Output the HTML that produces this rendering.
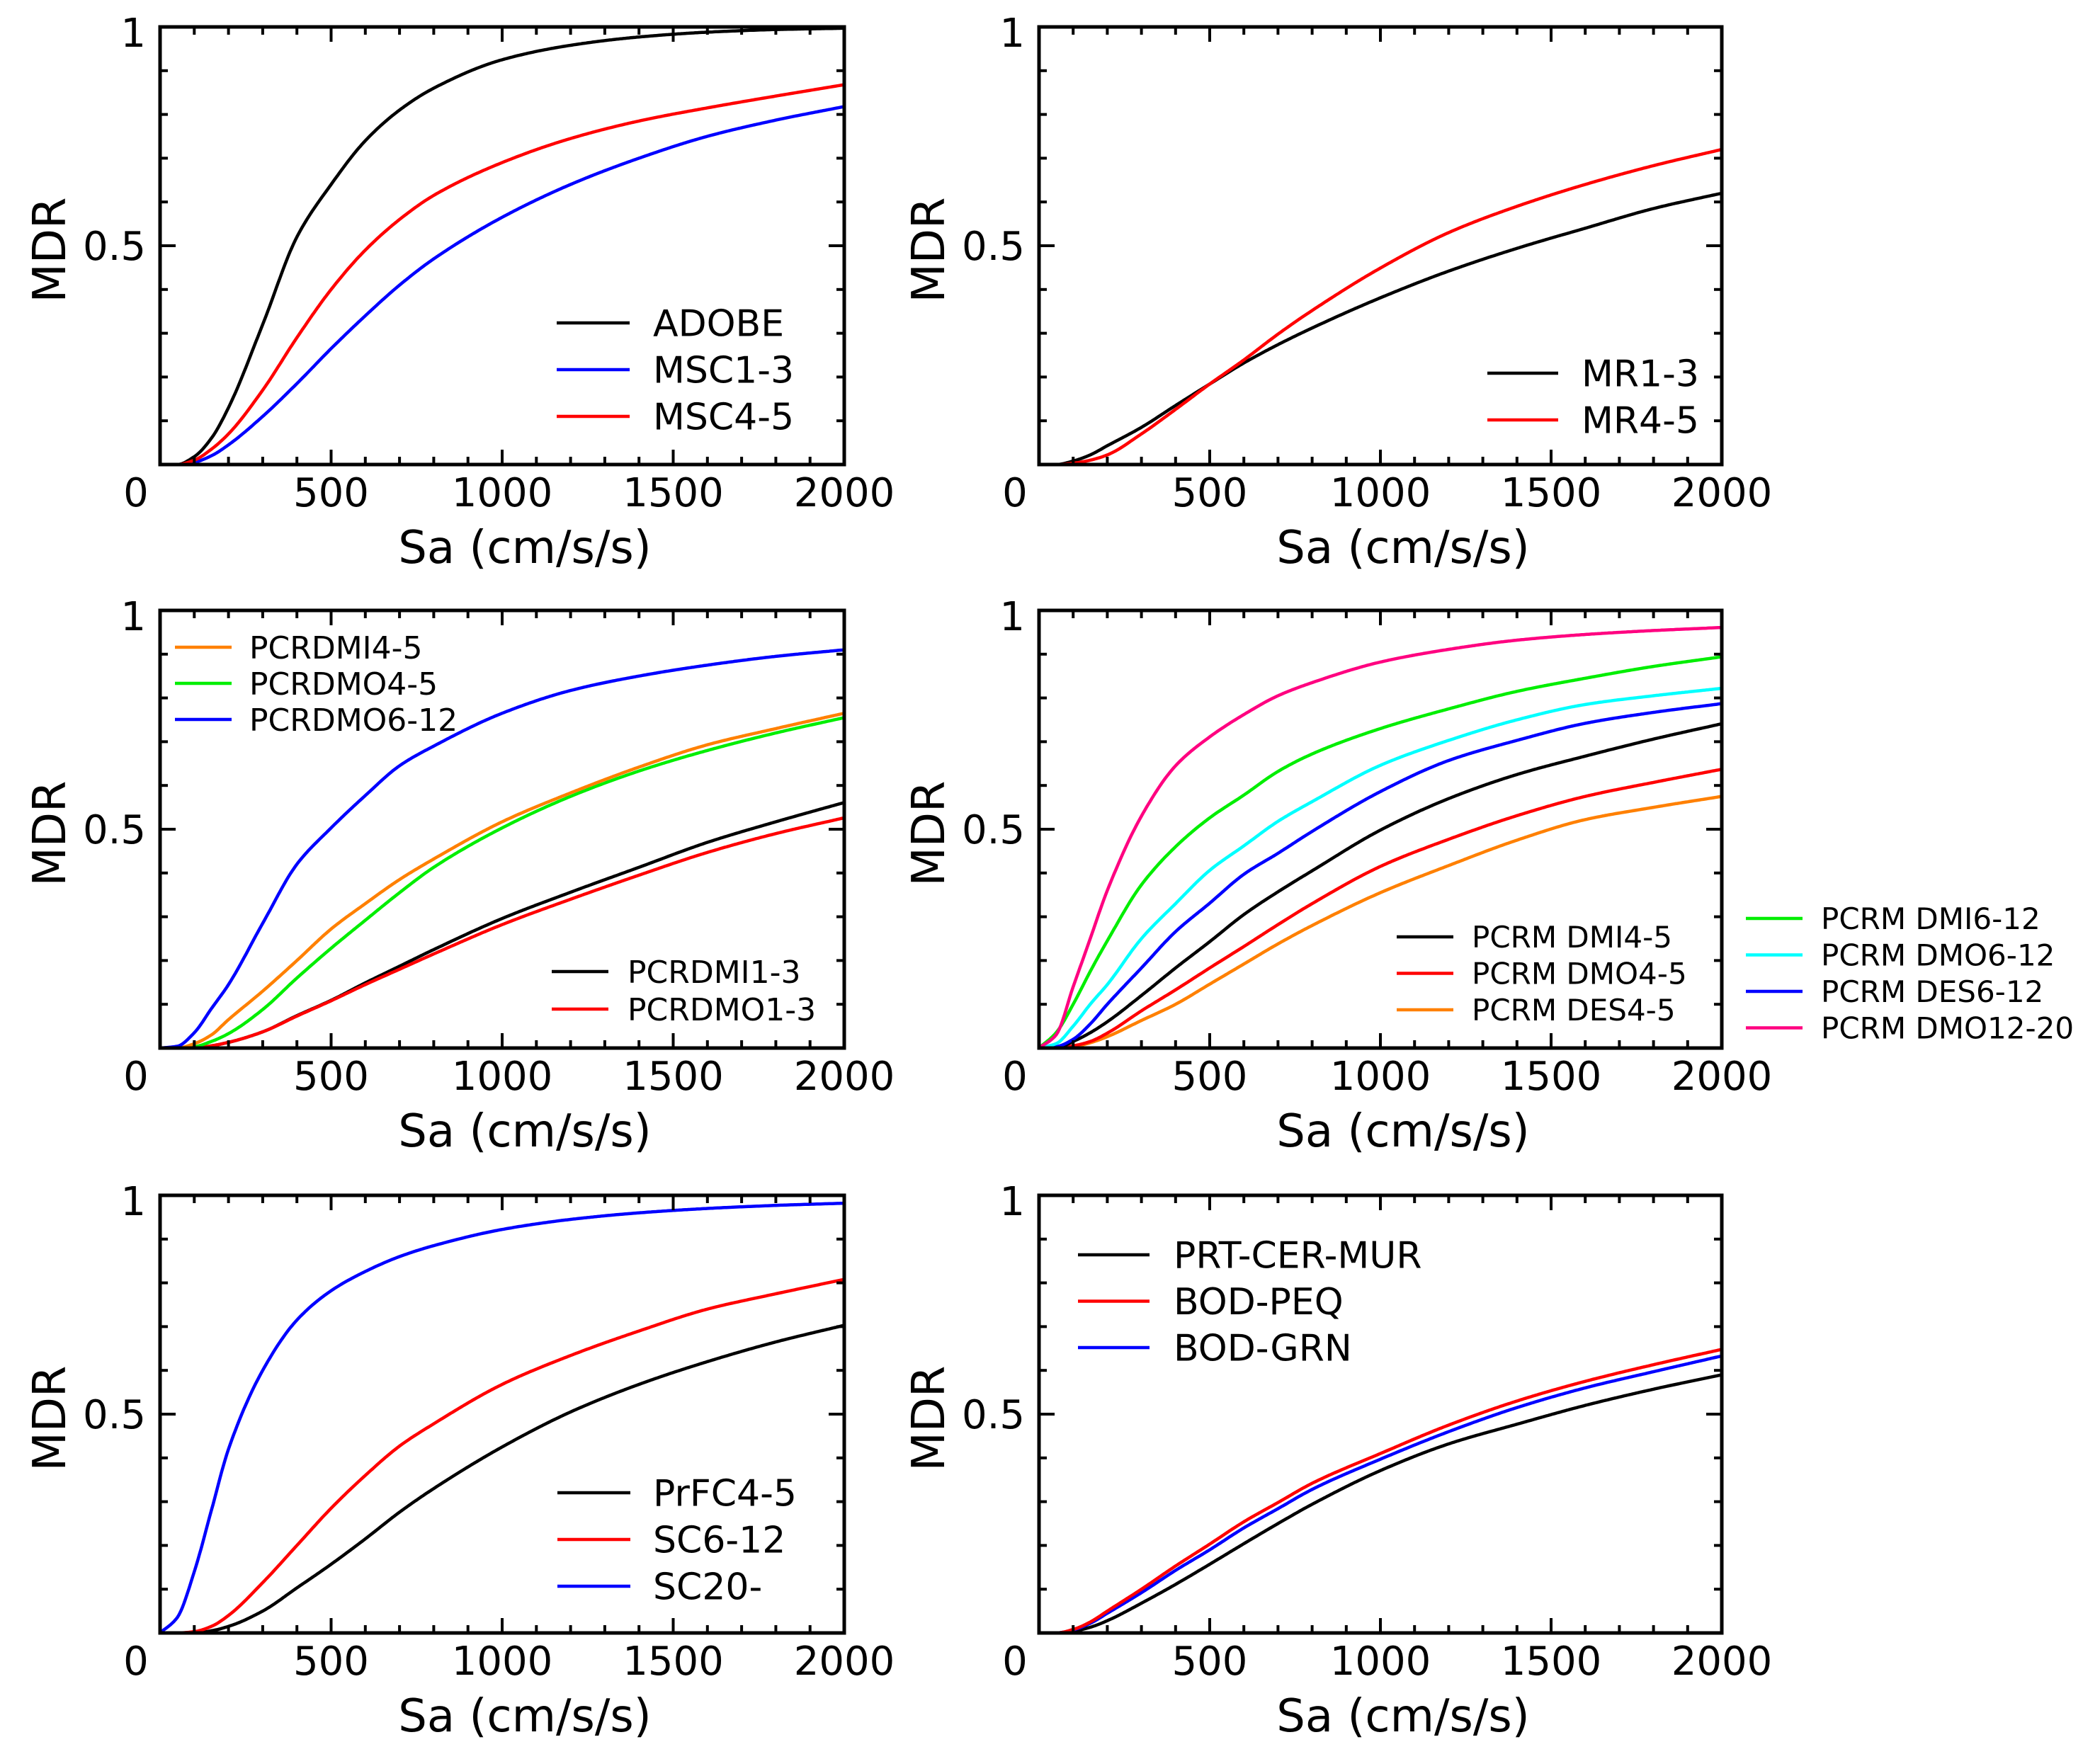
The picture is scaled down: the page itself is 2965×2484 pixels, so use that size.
<!DOCTYPE html>
<html><head><meta charset="utf-8"><style>
html,body{margin:0;padding:0;background:#fff;}
svg{display:block;font-family:"DejaVu Sans","Liberation Sans",sans-serif;}
</style></head><body>
<svg id="fig" width="2965" height="2484" viewBox="0 0 2965 2484" xmlns="http://www.w3.org/2000/svg"></svg>
<script>
const sa = [0,50,100,150,200,300,400,500,600,700,800,1000,1200,1400,1600,1800,2000];
const xTicks = [500,1000,1500,2000];
const yTickLabels = ["0.5","1"];
// Panel 1
const adobe  = [0,0,0.018,0.06,0.13,0.32,0.52,0.64,0.74,0.81,0.86,0.925,0.958,0.977,0.988,0.994,0.997];
const msc13  = [0,0,0.005,0.02,0.045,0.11,0.185,0.265,0.34,0.41,0.47,0.565,0.64,0.7,0.75,0.787,0.818];
const msc45  = [0,0,0.01,0.035,0.07,0.17,0.29,0.4,0.49,0.56,0.615,0.69,0.745,0.785,0.815,0.842,0.868];
// Panel 2
const mr13 = [0,0,0.008,0.022,0.043,0.085,0.135,0.184,0.232,0.274,0.312,0.381,0.442,0.494,0.54,0.585,0.62];
const mr45 = [0,0,0.003,0.01,0.022,0.07,0.126,0.184,0.239,0.298,0.352,0.449,0.53,0.59,0.64,0.683,0.72];
// Panel 3
const pcrdmo612 = [0,0.004,0.035,0.09,0.145,0.285,0.42,0.503,0.577,0.645,0.69,0.765,0.817,0.85,0.875,0.895,0.91];
const pcrdmi45  = [0,0,0.01,0.03,0.065,0.13,0.2,0.272,0.33,0.385,0.432,0.517,0.583,0.642,0.693,0.73,0.765];
const pcrdmo45  = [0,0,0.003,0.015,0.033,0.088,0.16,0.228,0.292,0.355,0.413,0.503,0.575,0.633,0.68,0.72,0.755];
const pcrdmi13  = [0,0,0,0.005,0.013,0.037,0.074,0.109,0.149,0.187,0.225,0.296,0.356,0.413,0.47,0.517,0.561];
const pcrdmo13  = [0,0,0,0.005,0.013,0.037,0.073,0.108,0.145,0.18,0.215,0.282,0.34,0.395,0.447,0.49,0.526];
// Panel 4
const dmo1220 = [0,0.03,0.14,0.25,0.36,0.53,0.645,0.711,0.762,0.805,0.835,0.882,0.911,0.932,0.945,0.954,0.961];
const dmi612  = [0,0.035,0.1,0.175,0.245,0.373,0.46,0.526,0.578,0.632,0.672,0.73,0.775,0.815,0.845,0.872,0.894];
const dmo612  = [0,0.01,0.05,0.1,0.145,0.25,0.33,0.406,0.462,0.518,0.563,0.646,0.703,0.75,0.785,0.805,0.822];
const des612  = [0,0.003,0.02,0.055,0.1,0.183,0.266,0.331,0.397,0.445,0.495,0.586,0.657,0.703,0.742,0.767,0.787];
const dmi45   = [0,0,0.015,0.035,0.06,0.12,0.183,0.243,0.305,0.357,0.405,0.498,0.57,0.625,0.667,0.706,0.741];
const dmo45   = [0,0,0.005,0.015,0.034,0.085,0.133,0.183,0.232,0.282,0.33,0.415,0.477,0.531,0.575,0.607,0.637];
const des45   = [0,0,0.003,0.012,0.026,0.063,0.1,0.146,0.192,0.238,0.28,0.355,0.417,0.475,0.522,0.55,0.575];
// Panel 5
const sc20   = [0,0.035,0.14,0.28,0.42,0.6,0.715,0.782,0.826,0.86,0.885,0.922,0.945,0.96,0.97,0.977,0.982];
const sc612  = [0,0,0.003,0.015,0.04,0.115,0.2,0.285,0.36,0.427,0.478,0.568,0.634,0.69,0.74,0.775,0.808];
const prfc45 = [0,0,0,0.005,0.015,0.05,0.103,0.157,0.215,0.276,0.33,0.425,0.505,0.568,0.62,0.665,0.703];
// Panel 6
const prt    = [0,0,0.004,0.013,0.028,0.068,0.111,0.157,0.204,0.25,0.294,0.371,0.432,0.477,0.52,0.557,0.59];
const bodpeq = [0,0,0.008,0.025,0.05,0.1,0.153,0.203,0.254,0.298,0.342,0.41,0.475,0.53,0.575,0.613,0.648];
const bodgrn = [0,0,0.007,0.022,0.045,0.092,0.143,0.19,0.24,0.284,0.328,0.397,0.46,0.515,0.56,0.597,0.633];

const NS="http://www.w3.org/2000/svg";
const svg=document.getElementById('fig');
function mk(tag,attrs,parent){const e=document.createElementNS(NS,tag);for(const k in attrs)e.setAttribute(k,attrs[k]);(parent||svg).appendChild(e);return e;}

const panels=[
 {id:'p1',l:226,t:38,r:1192,b:656,series:[['ADOBE',adobe,'#000'],['MSC1-3',msc13,'#0000ff'],['MSC4-5',msc45,'#ff0000']],
  legends:[{x:786,len:103,tx:922,y0:456,dy:66,fs:52,items:[['ADOBE','#000'],['MSC1-3','#0000ff'],['MSC4-5','#ff0000']]}]},
 {id:'p2',l:1467,t:38,r:2431,b:656,series:[['MR1-3',mr13,'#000'],['MR4-5',mr45,'#ff0000']],
  legends:[{x:2100,len:100,tx:2233,y0:527,dy:66,fs:52,items:[['MR1-3','#000'],['MR4-5','#ff0000']]}]},
 {id:'p3',l:226,t:862,r:1192,b:1480,series:[['PCRDMI1-3',pcrdmi13,'#000'],['PCRDMO1-3',pcrdmo13,'#ff0000'],['PCRDMO4-5',pcrdmo45,'#00ee00'],['PCRDMI4-5',pcrdmi45,'#ff8000'],['PCRDMO6-12',pcrdmo612,'#0000ff']],
  legends:[{x:247,len:80,tx:352,y0:914,dy:51,fs:44,items:[['PCRDMI4-5','#ff8000'],['PCRDMO4-5','#00ee00'],['PCRDMO6-12','#0000ff']]},
           {x:779,len:80,tx:886,y0:1372,dy:53,fs:44,items:[['PCRDMI1-3','#000'],['PCRDMO1-3','#ff0000']]}]},
 {id:'p4',l:1467,t:862,r:2431,b:1480,series:[['PCRM DES4-5',des45,'#ff8000'],['PCRM DMO4-5',dmo45,'#ff0000'],['PCRM DMI4-5',dmi45,'#000'],['PCRM DES6-12',des612,'#0000ff'],['PCRM DMO6-12',dmo612,'#00ffff'],['PCRM DMI6-12',dmi612,'#00ee00'],['PCRM DMO12-20',dmo1220,'#ff0080']],
  legends:[{x:1972,len:80,tx:2078,y0:1323,dy:51.5,fs:42,items:[['PCRM DMI4-5','#000'],['PCRM DMO4-5','#ff0000'],['PCRM DES4-5','#ff8000']]},
           {x:2465,len:80,tx:2571,y0:1297,dy:51.5,fs:42,items:[['PCRM DMI6-12','#00ee00'],['PCRM DMO6-12','#00ffff'],['PCRM DES6-12','#0000ff'],['PCRM DMO12-20','#ff0080']]}]},
 {id:'p5',l:226,t:1688,r:1192,b:2306,series:[['PrFC4-5',prfc45,'#000'],['SC6-12',sc612,'#ff0000'],['SC20-',sc20,'#0000ff']],
  legends:[{x:787,len:103,tx:922,y0:2108,dy:66,fs:52,items:[['PrFC4-5','#000'],['SC6-12','#ff0000'],['SC20-','#0000ff']]}]},
 {id:'p6',l:1467,t:1688,r:2431,b:2306,series:[['PRT-CER-MUR',prt,'#000'],['BOD-GRN',bodgrn,'#0000ff'],['BOD-PEQ',bodpeq,'#ff0000']],
  legends:[{x:1522,len:101,tx:1657,y0:1772,dy:65.5,fs:52,items:[['PRT-CER-MUR','#000'],['BOD-PEQ','#ff0000'],['BOD-GRN','#0000ff']]}]}
];

// Monotone cubic (Fritsch-Carlson) interpolation in data space
function monotone(xv,yv){
  const n=xv.length,d=[],m=new Array(n);
  for(let i=0;i<n-1;i++)d.push((yv[i+1]-yv[i])/(xv[i+1]-xv[i]));
  m[0]=d[0];m[n-1]=d[n-2];
  for(let i=1;i<n-1;i++){
    if(d[i-1]*d[i]<=0)m[i]=0;
    else{const h0=xv[i]-xv[i-1],h1=xv[i+1]-xv[i];const w1=2*h1+h0,w2=h1+2*h0;m[i]=(w1+w2)/(w1/d[i-1]+w2/d[i]);}
  }
  return function(x){
    let i=0;while(i<n-2&&x>xv[i+1])i++;
    const h=xv[i+1]-xv[i],t=(x-xv[i])/h,t2=t*t,t3=t2*t;
    return (2*t3-3*t2+1)*yv[i]+(t3-2*t2+t)*h*m[i]+(-2*t3+3*t2)*yv[i+1]+(t3-t2)*h*m[i+1];
  };
}

panels.forEach(p=>{
  const g=mk('g',{});
  
  
  const xs=v=>p.l+(p.r-p.l)*v/2000;
  const ys=v=>p.b-(p.b-p.t)*v;
  p.series.forEach(s=>{
    const f=monotone(sa,s[1]);
    let d='';
    for(let x=0;x<=2000;x+=5){d+=(x===0?'M':'L')+xs(x).toFixed(1)+','+ys(Math.max(0,f(x))).toFixed(1);}
    const path=mk('path',{d:d,fill:'none',stroke:s[2],'stroke-width':4.5,'stroke-linejoin':'round'},g);
    
    
  });
  for(let v=100;v<2000;v+=100){
    const major=v%500===0, L=major?21:11, x=xs(v);
    const t1=mk('line',{x1:x,y1:p.b,x2:x,y2:p.b-L,stroke:'#000','stroke-width':4},g);
    
    
    const t2=mk('line',{x1:x,y1:p.t,x2:x,y2:p.t+L,stroke:'#000','stroke-width':4},g);
    
    
  }
  for(let k=1;k<10;k++){
    const major=k===5, L=major?22:11, y=ys(k/10);
    const t1=mk('line',{x1:p.l,y1:y,x2:p.l+L,y2:y,stroke:'#000','stroke-width':4},g);
    
    
    const t2=mk('line',{x1:p.r,y1:y,x2:p.r-L,y2:y,stroke:'#000','stroke-width':4},g);
    
    
  }
  const frame=mk('rect',{x:p.l,y:p.t,width:p.r-p.l,height:p.b-p.t,fill:'none',stroke:'#000','stroke-width':5},g);
  
  
  xTicks.forEach(v=>{
    const t=mk('text',{x:xs(v),y:p.b+59,'font-size':56,'text-anchor':'middle'},g);
    t.textContent=String(v);
    
    
  });
  const z=mk('text',{x:p.l-34,y:p.b+59,'font-size':56,'text-anchor':'middle'},g);
  z.textContent='0';
  
  
  const yl1=mk('text',{x:p.l-20,y:ys(0.5)+20,'font-size':56,'text-anchor':'end'},g);
  yl1.textContent=yTickLabels[0];
  
  
  const yl2=mk('text',{x:p.l-20,y:p.t+28,'font-size':56,'text-anchor':'end'},g);
  yl2.textContent=yTickLabels[1];
  
  
  const cy=(p.t+p.b)/2+6, cx=p.l-155;
  const yt=mk('text',{x:cx,y:cy,'font-size':64,'text-anchor':'middle','dominant-baseline':'central',transform:'rotate(-90 '+cx+' '+cy+')'},g);
  yt.textContent='MDR';
  
  
  const xt=mk('text',{x:(p.l+p.r)/2+32,y:p.b+139,'font-size':64,'text-anchor':'middle'},g);
  xt.textContent='Sa (cm/s/s)';
  
  
  p.legends.forEach(lg=>{
    const lgG=mk('g',{},g);
    
    
    lg.items.forEach((it,i)=>{
      const y=lg.y0+i*lg.dy;
      const ln=mk('line',{x1:lg.x,y1:y,x2:lg.x+lg.len,y2:y,stroke:it[1],'stroke-width':4.5},lgG);
      
      
      const tx=mk('text',{x:lg.tx,y:y+lg.fs*0.36,'font-size':lg.fs},lgG);
      tx.textContent=it[0];
      
      
    });
  });
});
</script>
</body></html>
